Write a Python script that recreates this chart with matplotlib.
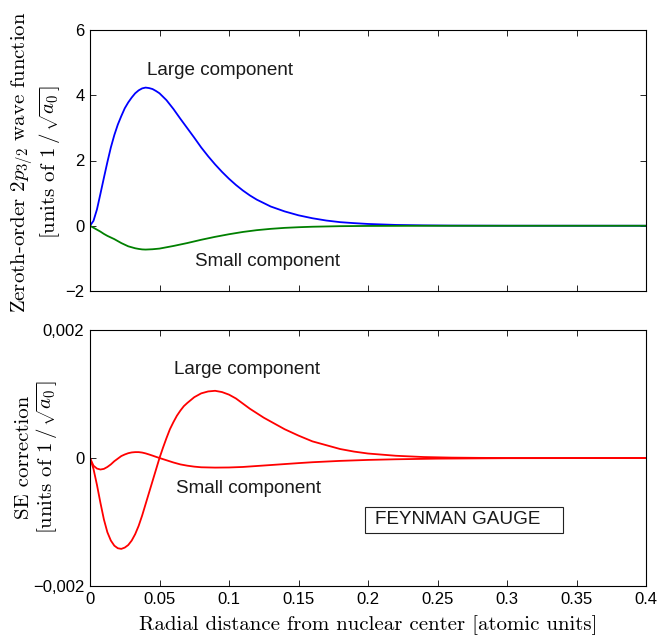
import matplotlib
matplotlib.use("Agg")
import matplotlib.pyplot as plt
from matplotlib.patches import Rectangle

plt.rcParams['mathtext.fontset'] = 'cm'
plt.rcParams['font.family'] = ['Liberation Sans', 'DejaVu Sans']

# ---- data ----
r_large = [0, 0.0025, 0.005, 0.0075, 0.010, 0.0125, 0.015, 0.0175, 0.020, 0.0225, 0.025,
           0.0275, 0.030, 0.0325, 0.035, 0.0375, 0.040, 0.0425, 0.045, 0.0475, 0.050,
           0.055, 0.060, 0.065, 0.070, 0.075, 0.080, 0.085, 0.090, 0.095, 0.100, 0.105,
           0.110, 0.115, 0.120, 0.130, 0.140, 0.150, 0.160, 0.170, 0.180, 0.190, 0.200,
           0.220, 0.240, 0.260, 0.300, 0.400]
large_wf = [0, 0.15, 0.50, 0.98, 1.47, 1.95, 2.40, 2.78, 3.10, 3.36, 3.60,
            3.78, 3.93, 4.06, 4.15, 4.21, 4.235, 4.22, 4.19, 4.13, 4.06,
            3.85, 3.58, 3.28, 2.99, 2.70, 2.40, 2.13, 1.88, 1.65, 1.44, 1.25,
            1.08, 0.93, 0.80, 0.59, 0.44, 0.32, 0.23, 0.16, 0.11, 0.08, 0.055,
            0.025, 0.012, 0.005, 0.001, 0]

r_small = [0, 0.0025, 0.005, 0.0075, 0.010, 0.0125, 0.015, 0.0175, 0.020, 0.0225, 0.025,
           0.0275, 0.030, 0.0325, 0.035, 0.0375, 0.040, 0.045, 0.050, 0.055, 0.060,
           0.065, 0.070, 0.075, 0.080, 0.090, 0.100, 0.110, 0.120, 0.130, 0.140,
           0.150, 0.160, 0.180, 0.200, 0.240, 0.400]
small_wf = [0, -0.06, -0.12, -0.18, -0.25, -0.31, -0.36, -0.41, -0.47, -0.53, -0.58,
            -0.63, -0.66, -0.69, -0.71, -0.725, -0.73, -0.72, -0.70, -0.66, -0.62,
            -0.575, -0.53, -0.48, -0.43, -0.34, -0.26, -0.19, -0.135, -0.095, -0.065,
            -0.045, -0.03, -0.013, -0.006, -0.001, 0]

r_se_large = [0, 0.0025, 0.005, 0.0075, 0.010, 0.0125, 0.015, 0.0175, 0.020, 0.0225, 0.025,
              0.0275, 0.030, 0.0325, 0.035, 0.0375, 0.040, 0.0425, 0.045, 0.0475, 0.050,
              0.0525, 0.055, 0.0575, 0.060, 0.0625, 0.065, 0.0675, 0.070, 0.075, 0.080,
              0.085, 0.090, 0.095, 0.100, 0.105, 0.110, 0.115, 0.120, 0.125, 0.130,
              0.140, 0.150, 0.160, 0.170, 0.180, 0.190, 0.200, 0.220, 0.240, 0.260,
              0.280, 0.300, 0.400]
se_large = [0, -0.17e-3, -0.42e-3, -0.70e-3, -0.96e-3, -1.16e-3, -1.29e-3, -1.37e-3, -1.41e-3, -1.42e-3, -1.40e-3,
            -1.36e-3, -1.29e-3, -1.19e-3, -1.06e-3, -0.90e-3, -0.72e-3, -0.54e-3, -0.36e-3, -0.18e-3, 0.0,
            0.16e-3, 0.31e-3, 0.45e-3, 0.56e-3, 0.66e-3, 0.74e-3, 0.81e-3, 0.86e-3, 0.95e-3, 1.01e-3,
            1.04e-3, 1.05e-3, 1.03e-3, 0.99e-3, 0.93e-3, 0.85e-3, 0.77e-3, 0.70e-3, 0.63e-3, 0.57e-3,
            0.45e-3, 0.35e-3, 0.26e-3, 0.20e-3, 0.14e-3, 0.10e-3, 0.07e-3, 0.035e-3, 0.015e-3, 0.006e-3,
            0.002e-3, 0, 0]

r_se_small = [0, 0.0025, 0.005, 0.0075, 0.010, 0.0125, 0.015, 0.0175, 0.020, 0.0225, 0.025,
              0.0275, 0.030, 0.0325, 0.035, 0.0375, 0.040, 0.0425, 0.045, 0.0475, 0.050,
              0.055, 0.060, 0.065, 0.070, 0.075, 0.080, 0.090, 0.100, 0.110, 0.120,
              0.130, 0.140, 0.150, 0.160, 0.180, 0.200, 0.220, 0.250, 0.300, 0.400]
se_small = [0, -0.12e-3, -0.165e-3, -0.18e-3, -0.17e-3, -0.14e-3, -0.10e-3, -0.05e-3, -0.01e-3, 0.03e-3, 0.055e-3,
            0.075e-3, 0.087e-3, 0.092e-3, 0.092e-3, 0.085e-3, 0.072e-3, 0.055e-3, 0.037e-3, 0.018e-3, 0.0,
            -0.035e-3, -0.07e-3, -0.10e-3, -0.12e-3, -0.135e-3, -0.145e-3, -0.15e-3, -0.148e-3, -0.14e-3, -0.125e-3,
            -0.11e-3, -0.095e-3, -0.08e-3, -0.066e-3, -0.045e-3, -0.03e-3, -0.02e-3, -0.01e-3, -0.003e-3, 0]

x_ticks = [0, 0.05, 0.1, 0.15, 0.2, 0.25, 0.3, 0.35, 0.4]
x_ticklabels = ["0", "0.05", "0.1", "0.15", "0.2", "0.25", "0.3", "0.35", "0.4"]
top_yticks = [-2, 0, 2, 4, 6]
top_yticklabels = ["\u22122", "0", "2", "4", "6"]
bot_yticks = [-0.002, 0, 0.002]
bot_yticklabels = ["\u22120,002", "0", "0,002"]

W, H = 660, 638
fig = plt.figure(figsize=(W / 100, H / 100), dpi=100)

ax1 = fig.add_axes([90 / W, (H - 291) / H, 556 / W, 261 / H])
ax2 = fig.add_axes([90 / W, (H - 586) / H, 556 / W, 256 / H])

ax1.plot(r_large, large_wf, color=(0, 0, 1), lw=1.3)
ax1.plot(r_small, small_wf, color=(0, 0.5, 0), lw=1.3)
ax2.plot(r_se_large, se_large, color=(1, 0, 0), lw=1.3)
ax2.plot(r_se_small, se_small, color=(1, 0, 0), lw=1.3)

for ax in (ax1, ax2):
    ax.set_xlim(0, 0.4)
    ax.set_xticks(x_ticks)
    ax.tick_params(direction='in', length=4, width=0.6, top=True, right=True,
                   labelsize=12, pad=4)
    for s in ax.spines.values():
        s.set_linewidth(0.8)

ax1.set_xticklabels([])
ax1.set_ylim(-2, 6)
ax1.set_yticks(top_yticks)
ax1.set_yticklabels(top_yticklabels)

ax2.set_xticklabels(x_ticklabels)
ax2.set_ylim(-0.002, 0.002)
ax2.set_yticks(bot_yticks)
ax2.set_yticklabels(bot_yticklabels)

lab_font = dict(family='cmr10', size=15)
fig.text(36 / W, 1 - 162 / H,
         "Zeroth-order $2p_{3/2}$ wave function\n[units of $1\\,/\\,\\sqrt{a_0}$]",
         rotation=90, ha='center', va='center', multialignment='center',
         linespacing=1.1, **lab_font)
fig.text(37 / W, 1 - 457 / H,
         "SE correction\n[units of $1\\,/\\,\\sqrt{a_0}$]",
         rotation=90, ha='center', va='center', multialignment='center',
         linespacing=1.1, **lab_font)
fig.text(368 / W, 1 - 625 / H, "Radial distance from nuclear center [atomic units]",
         ha='center', va='center', **lab_font)

ann = dict(fontsize=13.6, ha='center', va='center', color='#1a1a1a')
ax1.text(0.0935, 4.77, "Large component", **ann)
ax1.text(0.128, -1.11, "Small component", **ann)
ax2.text(0.113, 0.001375, "Large component", **ann)
ax2.text(0.1137, -0.000484, "Small component", **ann)

ax2.add_patch(Rectangle((0.4946, 0.207), 0.8507 - 0.4946, 0.3086 - 0.207,
                        transform=ax2.transAxes, fill=False, lw=0.8, edgecolor='#222222'))
ax2.text(0.5126, 0.258, "FEYNMAN GAUGE", transform=ax2.transAxes,
         fontsize=13.6, ha='left', va='center', color='#1a1a1a')

fig.savefig("out.png", dpi=100)
